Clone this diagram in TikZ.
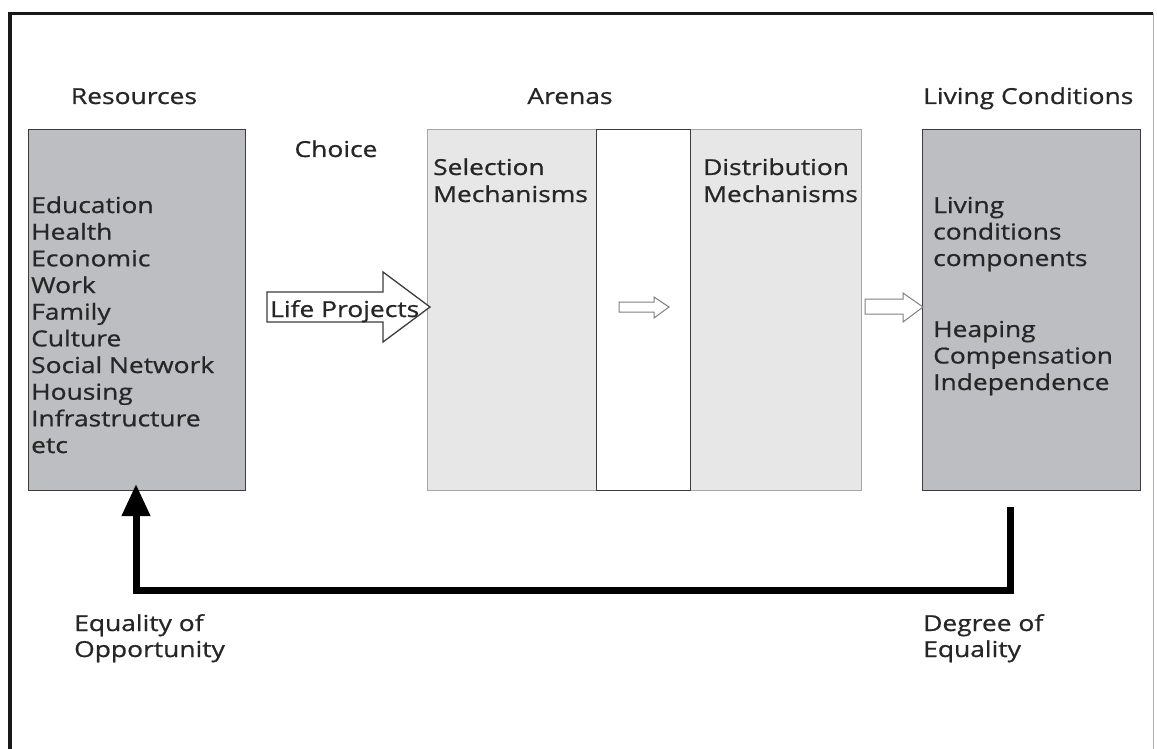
\documentclass[tikz,border=0pt]{standalone}
\usepackage{fontspec}
\setmainfont{Open Sans}[FakeStretch=1.2, FakeBold=0.8]
\usetikzlibrary{arrows.meta}
\definecolor{txt}{HTML}{262626}
\definecolor{boxgray}{HTML}{BDBEC2}
\definecolor{arenagray}{HTML}{E7E7E7}
\definecolor{edgedark}{HTML}{3C3C3C}
\newcommand\diagfont{\fontsize{22}{26}\selectfont}
\begin{document}
\begin{tikzpicture}[x=1pt,y=-1pt,
  lbl/.style={font=\diagfont, text=txt, inner sep=0pt, anchor=base west},
  title/.style={font=\diagfont, text=txt, inner sep=0pt, anchor=base},
  darkbox/.style={draw=edgedark, line width=1.4pt, fill=boxgray, anchor=north west, inner sep=0pt, minimum height=361},
  arenabox/.style={draw=black!35, line width=1.2pt, fill=arenagray, anchor=north west, inner sep=0pt, minimum height=361},
  stripbox/.style={draw=edgedark, line width=1.4pt, fill=white, anchor=north west, inner sep=0pt, minimum height=361},
  bigarrow/.style={draw=edgedark, line width=1.3pt, fill=white, line join=miter},
  thinarrow/.style={draw=black!50, line width=1pt, fill=white, line join=miter},
  feedback/.style={draw=black, line width=7pt, line join=miter, line cap=butt, -{Triangle[length=32pt,width=27pt]}}
]
\useasboundingbox (0,0) rectangle (1157,749);
% frame
\draw[line width=3.2pt, color=black!90] (10,749) -- (10,13.5) -- (1153,13.5);
\draw[line width=1pt, color=black!30] (1153,13.5) -- (1153,749);

% boxes
\node[darkbox, minimum width=217] (res) at (28,129) {};
\node[arenabox, minimum width=434] (arena) at (427,129) {};
\node[stripbox, minimum width=94] (strip) at (596,129) {};
\node[darkbox, minimum width=218] (liv) at (922,129) {};

% titles
\node[title] (restitle) at (134,104) {Resources};
\node[title] (choice) at (336,157) {Choice};
\node[title] (arenatitle) at (570,104) {Arenas};
\node[lbl] (livtitle) at (923,104) {Living Conditions};

% resources list
\foreach \t [count=\i] in {Education,Health,Economic,Work,Family,Culture,Social Network,Housing,Infrastructure,etc}
  \node[lbl] (res\i) at (31,{213+26.67*(\i-1)}) {\t};

% arenas texts
\node[lbl] (sel1) at (433,175) {Selection};
\node[lbl] (sel2) at (433,202) {Mechanisms};
\node[lbl] (dis1) at (703,175) {Distribution};
\node[lbl] (dis2) at (703,202) {Mechanisms};

% living conditions texts
\node[lbl] (liv1) at (933,213) {Living};
\node[lbl] (liv2) at (933,239.5) {conditions};
\node[lbl] (liv3) at (933,266) {components};
\node[lbl] (liv4) at (933,337) {Heaping};
\node[lbl] (liv5) at (933,363.5) {Compensation};
\node[lbl] (liv6) at (933,390) {Independence};

% block arrows
\draw[bigarrow] (267,292) -- (383,292) -- (383,272) -- (430,307) -- (383,342) -- (383,322) -- (267,322) -- cycle;
\node[lbl] (life) at (270,317) {Life Projects};
\draw[thinarrow] (619,302) -- (654,302) -- (654,297) -- (669,307) -- (654,318) -- (654,312) -- (619,312) -- cycle;
\draw[thinarrow] (865,299) -- (903,299) -- (903,293) -- (923,307) -- (903,322) -- (903,314) -- (865,314) -- cycle;

% feedback loop
\coordinate (fbs) at (1010,507);
\coordinate (fbc1) at (1010,590);
\coordinate (fbc2) at (136,590);
\coordinate (fbe) at (136,484);
\draw[feedback] (fbs) -- (fbc1) -- (fbc2) -- (fbe);

% bottom labels
\node[lbl] (eq1) at (74,631) {Equality of};
\node[lbl] (eq2) at (74,657) {Opportunity};
\node[lbl] (deg1) at (923,631) {Degree of};
\node[lbl] (deg2) at (923,657) {Equality};
\end{tikzpicture}
\end{document}
